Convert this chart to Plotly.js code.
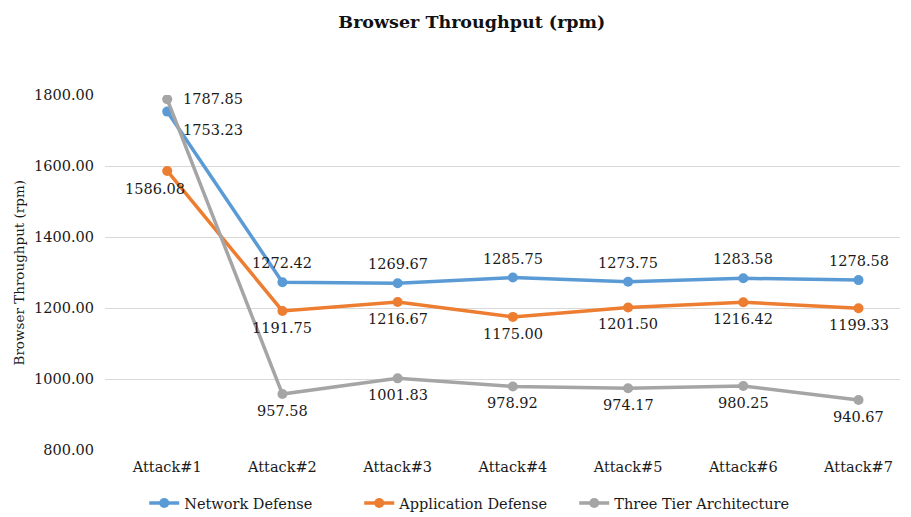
<!DOCTYPE html>
<html><head><meta charset="utf-8">
<script src="https://cdn.plot.ly/plotly-3.0.1.min.js"></script>
<style>html,body{margin:0;padding:0;background:#fff}#c{width:911px;height:517px}</style>
</head><body><div id="c"></div>
<script>
const categories = ["Attack#1","Attack#2","Attack#3","Attack#4","Attack#5","Attack#6","Attack#7"];
const networkDefense = [1753.23,1272.42,1269.67,1285.75,1273.75,1283.58,1278.58];
const applicationDefense = [1586.08,1191.75,1216.67,1175.00,1201.50,1216.42,1199.33];
const threeTier = [1787.85,957.58,1001.83,978.92,974.17,980.25,940.67];
const yTicks = [800,1000,1200,1400,1600,1800];

const fam = "DejaVu Serif, Liberation Serif, serif";
const font = {family:fam, size:14.5, color:"#1a1a1a"};
const series = [
  {name:"Network Defense", y:networkDefense, color:"#5B9BD5"},
  {name:"Application Defense", y:applicationDefense, color:"#ED7D31"},
  {name:"Three Tier Architecture", y:threeTier, color:"#A5A5A5"}
];
const traces = series.map(s => ({
  type:"scatter", mode:"lines+markers", name:s.name, x:categories, y:s.y,
  line:{color:s.color, width:3.5}, marker:{color:s.color, size:10}
}));

// label placement per series: [xshift, yshift, xanchor, yanchor]
function place(si, i){
  if (i === 0){
    if (si === 0) return [14, -8, "left", "top"];
    if (si === 1) return [-12, -8, "center", "top"];
    return [14, 0, "left", "middle"];
  }
  if (si === 0) return [0, 9, "center", "bottom"];
  return [0, -7, "center", "top"];
}
const annotations = [];
series.forEach((s, si) => {
  s.y.forEach((v, i) => {
    const p = place(si, i);
    annotations.push({x:categories[i], y:v, text:v.toFixed(2), showarrow:false,
      xshift:p[0], yshift:p[1], xanchor:p[2], yanchor:p[3], font:font});
  });
});
annotations.push({xref:"paper", yref:"paper", x:0, y:0.5, xshift:-87, textangle:-90,
  text:"Browser Throughput (rpm)", showarrow:false, xanchor:"center", yanchor:"middle",
  font:{family:fam, size:13.5, color:"#1a1a1a"}});

const layout = {
  width:911, height:517,
  margin:{l:105, r:11, t:95, b:67},
  paper_bgcolor:"#fff", plot_bgcolor:"#fff",
  font:font,
  title:{text:"<b>Browser Throughput (rpm)</b>", x:0.518, xanchor:"center", y:0.957, yanchor:"middle",
    font:{family:fam, size:17.5, color:"#111"}},
  xaxis:{type:"category", range:[-0.54, 6.36], showgrid:false, zeroline:false, showline:false,
    ticks:"", tickfont:font, fixedrange:true, automargin:false, ticklabelstandoff:6},
  yaxis:{range:[800,1800], tickvals:yTicks, ticktext:yTicks.map(v=>v.toFixed(2)),
    showgrid:true, gridcolor:"#d9d9d9", gridwidth:1, zeroline:false, showline:false,
    ticks:"", ticklen:0, tickfont:font, automargin:false, ticklabelstandoff:10},
  legend:{orientation:"h", x:0.455, xanchor:"center", yref:"container", y:0.027, yanchor:"middle",
    font:font, tracegroupgap:0, entrywidth:170, entrywidthmode:"pixels"},
  showlegend:true,
  annotations:annotations
};
Plotly.newPlot("c", traces, layout, {displayModeBar:false, staticPlot:true});
</script></body></html>
